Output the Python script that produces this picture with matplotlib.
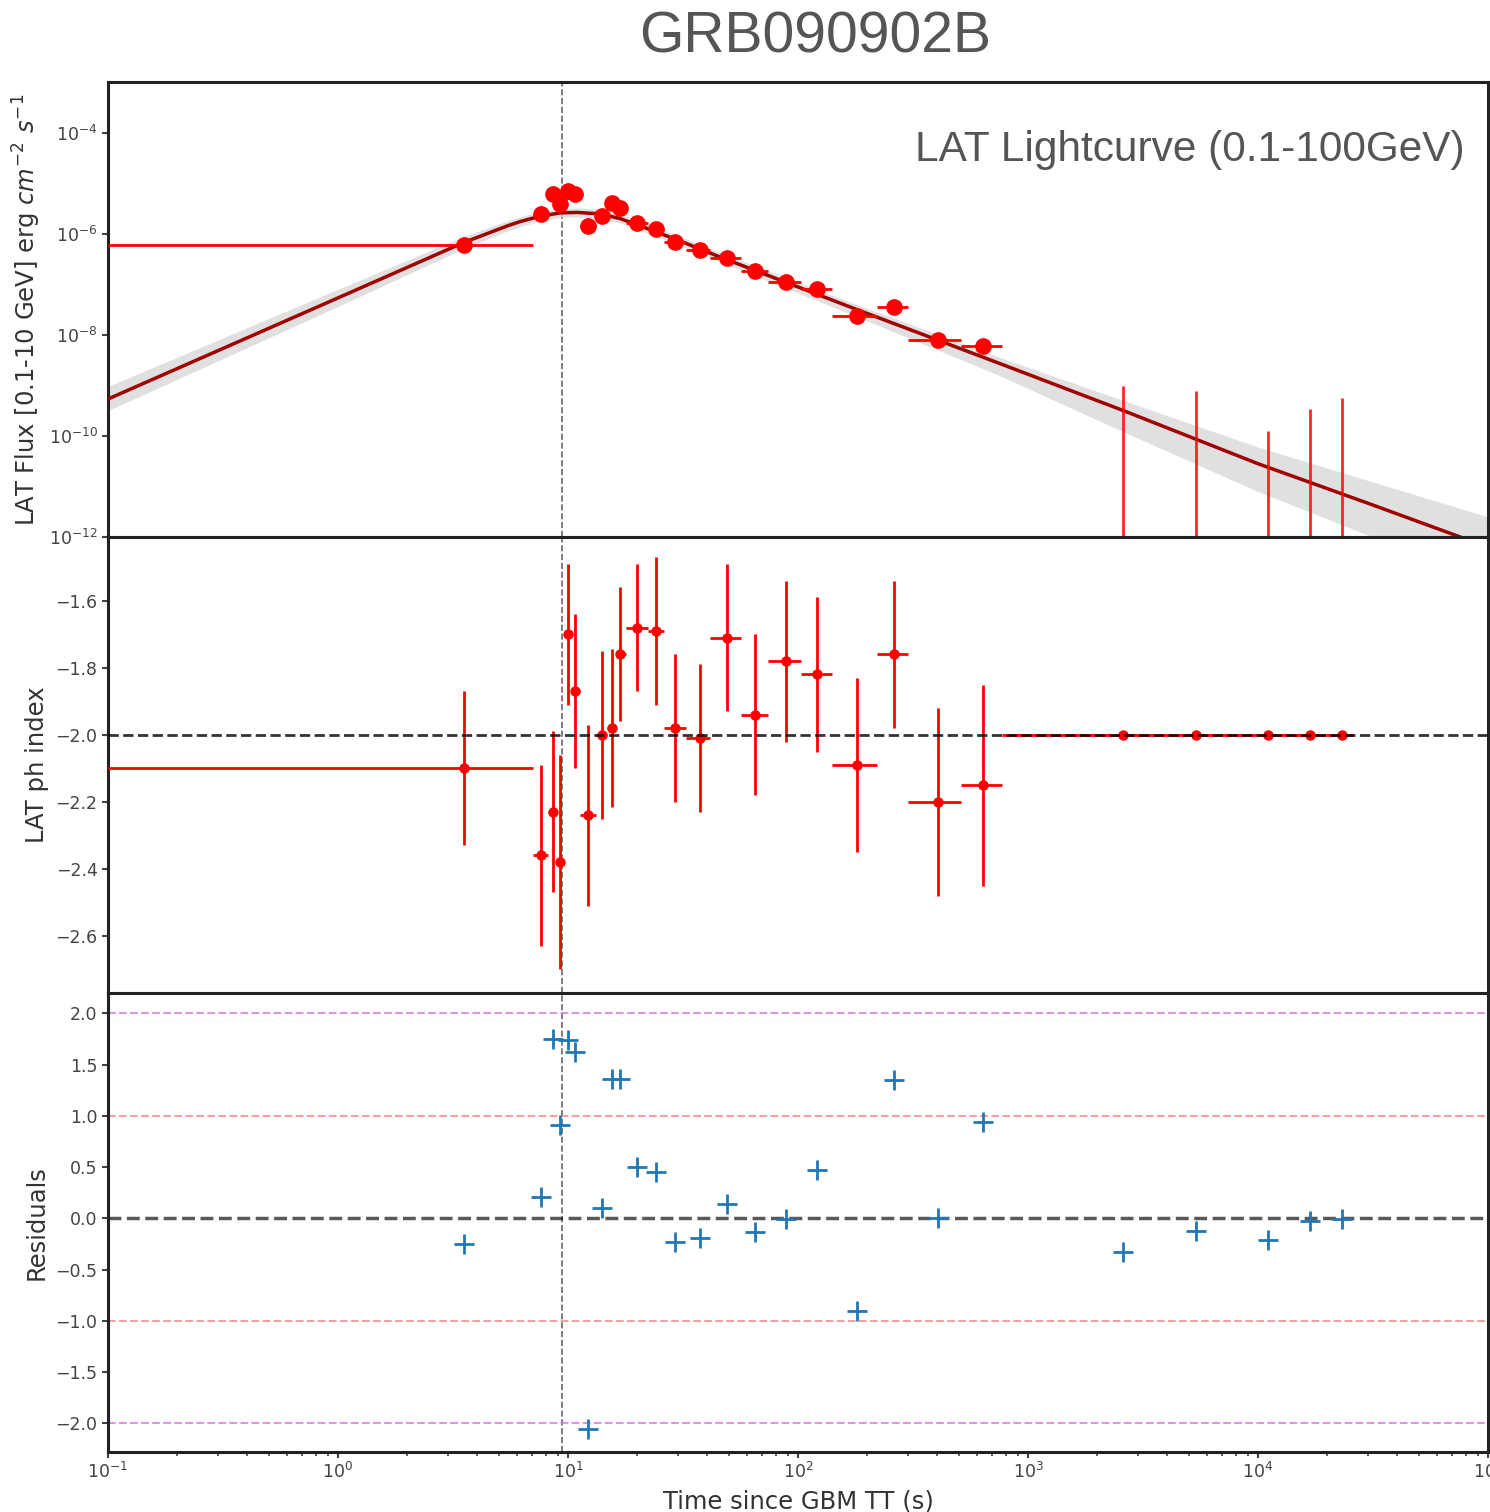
import numpy as np
import matplotlib.pyplot as plt
from matplotlib.ticker import FixedLocator, NullLocator, LogLocator

# ---- data ----
# detected bins: centre time (s) and bin edges
t_det = [3.53, 7.63, 8.61, 9.23, 10.0, 10.73, 12.22, 14.06, 15.53, 16.83, 19.95,
         24.15, 29.2, 37.5, 49.1, 65.0, 88.7, 121, 181, 261, 406, 637]
t_lo = [0.1, 7.04, 8.18, 8.95, 9.61, 10.31, 11.27, 13.23, 14.78, 16.17, 17.86,
        22.27, 26.1, 32.6, 41.4, 56.5, 74.1, 103, 141, 220, 301, 511]
t_hi = [7.04, 8.18, 8.95, 9.61, 10.31, 11.27, 13.23, 14.78, 16.17, 17.86, 22.27,
        26.1, 32.6, 41.4, 56.5, 74.1, 103, 141, 220, 301, 511, 771]

# energy flux (erg/cm2/s) and its error in dex
flux = [6.05e-7, 2.49e-6, 6.19e-6, 3.93e-6, 7.10e-6, 6.19e-6, 1.44e-6, 2.27e-6,
        4.11e-6, 3.27e-6, 1.65e-6, 1.26e-6, 6.95e-7, 4.82e-7, 3.35e-7, 1.85e-7,
        1.12e-7, 8.15e-8, 2.38e-8, 3.58e-8, 7.96e-9, 6.05e-9]
flux_err_dex = [0.08, 0.15, 0.12, 0.15, 0.10, 0.10, 0.15, 0.12, 0.12, 0.10, 0.08,
                0.08, 0.08, 0.08, 0.08, 0.10, 0.10, 0.10, 0.12, 0.12, 0.10, 0.12]

# photon index
index = [-2.10, -2.36, -2.23, -2.38, -1.70, -1.87, -2.24, -2.00, -1.98, -1.76, -1.68,
         -1.69, -1.98, -2.01, -1.71, -1.94, -1.78, -1.82, -2.09, -1.76, -2.20, -2.15]
index_err = [0.23, 0.27, 0.24, 0.32, 0.21, 0.23, 0.27, 0.25, 0.235, 0.20, 0.19,
             0.22, 0.22, 0.22, 0.22, 0.24, 0.24, 0.23, 0.26, 0.22, 0.28, 0.30]

# upper limits (late bins), index fixed at -2
t_ul = [2590, 5370, 11050, 16830, 23170]
t_ul_lo = [771, 3750, 7710, 13770, 19770]
t_ul_hi = [3750, 7710, 13770, 19770, 25900]
flux_ul = [9.8e-10, 7.8e-10, 1.26e-10, 3.4e-10, 5.6e-10]
index_ul = [-2.0, -2.0, -2.0, -2.0, -2.0]

# residuals (detections then upper limits)
resid = [-0.25, 0.21, 1.75, 0.91, 1.74, 1.62, -2.06, 0.10, 1.36, 1.36, 0.50,
         0.45, -0.23, -0.19, 0.14, -0.13, -0.01, 0.47, -0.90, 1.35, 0.0, 0.94,
         -0.33, -0.12, -0.21, -0.03, -0.01]

# fitted light curve and its uncertainty band (log10 flux, band half widths in dex)
model_t = [0.1, 1, 3.5, 4.5, 5.5, 6.2, 7.5, 9.2, 11.0, 13.8, 16.8, 23.4, 32.9,
           44.5, 180, 755, 2600, 1e4, 3e4, 1e5]
model_logf = [-9.27, -7.27, -6.18, -5.99, -5.84, -5.76, -5.66, -5.59, -5.58, -5.61,
              -5.70, -5.94, -6.20, -6.44, -7.50, -8.57, -9.50, -10.55, -11.33, -12.20]
band_up = [0.25, 0.17, 0.12, 0.11, 0.10, 0.10, 0.09, 0.09, 0.09, 0.09, 0.09, 0.09,
           0.09, 0.09, 0.10, 0.12, 0.20, 0.33, 0.45, 0.60]
band_dn = [0.23, 0.17, 0.12, 0.11, 0.10, 0.10, 0.09, 0.09, 0.09, 0.09, 0.09, 0.09,
           0.09, 0.09, 0.14, 0.24, 0.42, 0.55, 0.63, 0.72]

t_trigger_line = 9.4

# ---- derived arrays ----
t_det = np.array(t_det)
flux = np.array(flux)
fe = np.array(flux_err_dex)
xerr = [t_det - np.array(t_lo), np.array(t_hi) - t_det]
yerr_flux = [flux - flux * 10**(-fe), flux * 10**fe - flux]
t_ul = np.array(t_ul)
xerr_ul = [t_ul - np.array(t_ul_lo), np.array(t_ul_hi) - t_ul]
t_all = np.concatenate([t_det, t_ul])

model_f = 10**np.array(model_logf)
band_hi = 10**(np.array(model_logf) + np.array(band_up))
band_lo = 10**(np.array(model_logf) - np.array(band_dn))

fig = plt.figure(figsize=(14.9, 15.12), dpi=100)
left, width = 0.0725, 0.9262
ax1 = fig.add_axes([left, 0.6448, width, 0.3010])
ax2 = fig.add_axes([left, 0.3433, width, 0.3015])
ax3 = fig.add_axes([left, 0.0397, width, 0.3036])

tick_col = '#444444'
label_col = '#333333'
label_size = 17.5
for ax in (ax1, ax2, ax3):
    ax.set_xscale('log')
    ax.set_xlim(0.1, 1e5)
    ax.axvline(t_trigger_line, color='dimgray', ls='--', lw=1.2, zorder=1)
    for s in ax.spines.values():
        s.set_linewidth(2.2)
        s.set_color('#222222')
    ax.tick_params(labelsize=12.5, colors=tick_col, width=1.5, length=4)
    ax.tick_params(which='minor', width=1.2, length=3, colors=tick_col)
    ax.xaxis.set_major_locator(LogLocator(base=10, numticks=10))

# light curve
ax1.set_yscale('log')
ax1.set_ylim(1e-12, 1e-3)
ax1.fill_between(model_t, band_lo, band_hi, color='lightgray', alpha=0.7, lw=0, zorder=2)
ax1.plot(model_t, model_f, color='#a00000', lw=2.5, zorder=3)
ax1.errorbar(t_det, flux, xerr=xerr, yerr=yerr_flux, fmt='o', color='red',
             ms=11, elinewidth=2, zorder=4)
ax1.vlines(t_ul, 1e-12, flux_ul, color='red', lw=2, alpha=0.85, zorder=4)
ax1.yaxis.set_major_locator(FixedLocator([1e-12, 1e-10, 1e-8, 1e-6, 1e-4]))
ax1.yaxis.set_minor_locator(NullLocator())
ax1.set_ylabel(r'LAT Flux [0.1-10 GeV] erg $cm^{-2}$ $s^{-1}$', fontsize=label_size,
               color=label_col)
ax1.yaxis.set_label_coords(-0.047, 0.5)
ax1.tick_params(axis='x', which='both', labelbottom=False)
ax1.text(0.983, 0.85, 'LAT Lightcurve (0.1-100GeV)', transform=ax1.transAxes,
         ha='right', va='center', fontsize=30.5, color='#555555',
         family='Liberation Sans')

# photon index
ax2.set_ylim(-2.77, -1.41)
ax2.axhline(-2.0, color='black', ls='--', lw=2, alpha=0.8, zorder=5)
ax2.errorbar(t_det, index, xerr=xerr, yerr=index_err, fmt='o', color='red',
             ms=6.5, elinewidth=2, zorder=3)
ax2.errorbar(t_ul, index_ul, xerr=xerr_ul, fmt='o', color='red', ms=6.5,
             elinewidth=2, zorder=3)
ax2.yaxis.set_major_locator(FixedLocator([-2.6, -2.4, -2.2, -2.0, -1.8, -1.6]))
ax2.set_ylabel('LAT ph index', fontsize=label_size, color=label_col)
ax2.yaxis.set_label_coords(-0.043, 0.5)
ax2.tick_params(axis='x', which='both', labelbottom=False)

# residuals
ax3.set_ylim(-2.28, 2.2)
for lvl, c in [(2, 'orchid'), (-2, 'orchid'), (1, 'lightcoral'), (-1, 'lightcoral')]:
    ax3.axhline(lvl, color=c, ls='--', lw=1.5, alpha=0.75, zorder=1)
ax3.axhline(0, color='black', ls='--', lw=2.5, alpha=0.65, zorder=1)
ax3.plot(t_all, resid, '+', color='#1f77b4', ms=14, mew=2, zorder=3)
ax3.yaxis.set_major_locator(FixedLocator([-2.0, -1.5, -1.0, -0.5, 0.0, 0.5, 1.0, 1.5, 2.0]))
ax3.set_ylabel('Residuals', fontsize=label_size, color=label_col)
ax3.yaxis.set_label_coords(-0.043, 0.5)
ax3.set_xlabel('Time since GBM TT (s)', fontsize=label_size, color=label_col, labelpad=5)

fig.text(0.547, 0.975, 'GRB090902B', ha='center', va='center', fontsize=41,
         color='#555555', family='Liberation Sans')

fig.savefig('out.png', dpi=100)
